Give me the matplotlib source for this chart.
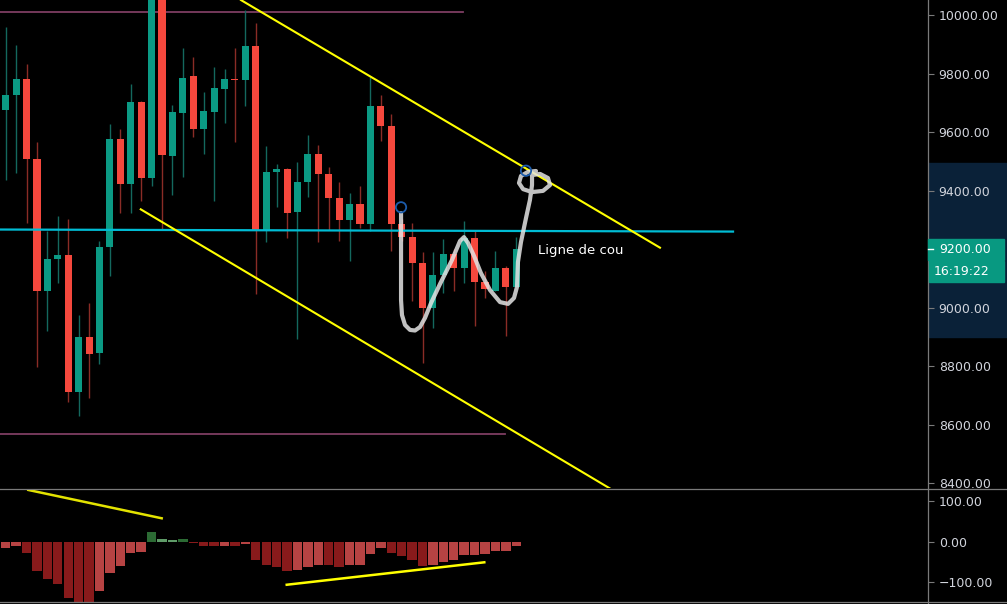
import numpy as np
import matplotlib.pyplot as plt
from matplotlib.patches import Rectangle
from matplotlib.lines import Line2D

# candles, one per bar index 0..49
opens = [9677, 9727, 9783, 9509, 9056, 9165, 9181, 8713, 8900, 8844,
         9206, 9578, 9422, 9702, 9442, 10085, 9518, 9665, 9790, 9610,
         9668, 9747, 9780, 9778, 9893, 9265, 9463, 9475, 9327, 9429,
         9526, 9457, 9375, 9298, 9354, 9285, 9690, 9622, 9286, 9242,
         9151, 9000, 9111, 9185, 9134, 9238, 9089, 9057, 9135, 9072]
highs = [9958, 9897, 9834, 9567, 9263, 9314, 9303, 8975, 9015, 9229,
         9626, 9609, 9763, 9705, 10095, 10095, 9694, 9886, 9856, 9736,
         9822, 9815, 9886, 10017, 9973, 9551, 9492, 9478, 9498, 9591,
         9557, 9482, 9429, 9391, 9416, 9788, 9725, 9663, 9304, 9291,
         9189, 9189, 9234, 9200, 9297, 9263, 9126, 9194, 9143, 9240]
lows = [9437, 9459, 9291, 8798, 8921, 9086, 8678, 8630, 8691, 8808,
        9109, 9325, 9322, 9366, 9415, 9265, 9384, 9446, 9583, 9525,
        9366, 9631, 9566, 9689, 9048, 9224, 9343, 9238, 8892, 9377,
        9224, 9265, 9228, 9158, 9271, 9263, 9569, 9192, 9229, 9023,
        8811, 8931, 9051, 9057, 9086, 8937, 9034, 9057, 8903, 9072]
closes = [9728, 9783, 9507, 9058, 9166, 9181, 8713, 8900, 8842, 9208,
          9578, 9422, 9702, 9442, 10085, 9521, 9667, 9786, 9610, 9671,
          9749, 9780, 9778, 9893, 9265, 9464, 9475, 9324, 9430, 9526,
          9456, 9374, 9298, 9354, 9285, 9690, 9620, 9286, 9240, 9151,
          9000, 9111, 9183, 9134, 9238, 9089, 9063, 9135, 9072, 9200]

# oscillator histogram, starting at bar index -1
osc_start = -1
osc = [-23.8, -16.4, -11.5, -28.7, -73, -92.8, -105, -139.6, -150, -150,
       -122.3, -78, -60.8, -28.7, -26.3, 24.6, 7.4, 4.9, 7.4, -4.1,
       -11.5, -11.7, -11.3, -11.6, -6.6, -46, -58.3, -63.2, -73, -70.6,
       -63.2, -58.3, -58.5, -63.2, -58.3, -58.1, -31.2, -16.4, -28.7, -36.1,
       -46, -60.8, -58.3, -50.9, -46, -33.7, -33.5, -31.2, -23.8, -23.6, -11.5]

price_ticks = [8400, 8600, 8800, 9000, 9200, 9400, 9600, 9800, 10000]
osc_ticks = [-100, 0, 100]

# drawings on the price pane
neckline_x = [-0.55, 69.8]
neckline_y = [9267, 9260]
channel_top_x = [22.58, 62.79]
channel_top_y = [10051, 9205]
channel_bot_x = [12.96, 58.19]
channel_bot_y = [9336, 8378]
level_hi_x, level_hi_y = [-0.55, 43.9], [10010, 10010]
level_lo_x, level_lo_y = [-0.55, 47.9], [8570, 8570]
anchor_x = [37.94, 49.93]
anchor_y = [9343, 9468]
sketch_x = [37.94, 37.94, 37.94, 38.03, 38.32, 38.80, 39.28, 39.76, 40.24, 40.82,
            41.68, 42.83, 43.60, 43.98, 44.37, 44.94, 45.61, 46.48, 47.44, 48.21,
            48.78, 49.07, 49.16, 49.45, 49.93, 50.31, 50.51, 50.51, 51.28, 52.04,
            52.24, 51.56, 50.51, 49.65, 49.26, 49.45, 50.12, 50.89]
sketch_y = [9323, 9248, 9026, 8975, 8941, 8924, 8922, 8934, 8965, 9016,
            9081, 9163, 9228, 9241, 9221, 9177, 9118, 9060, 9019, 9013,
            9033, 9071, 9156, 9224, 9306, 9368, 9419, 9453, 9457, 9443,
            9419, 9399, 9395, 9405, 9426, 9450, 9464, 9467]
label_pos = (51.08, 9196)

# drawings on the oscillator pane
osc_div1_x, osc_div1_y = [2.17, 14.97], [127.3, 57.6]
osc_div2_x, osc_div2_y = [26.97, 45.93], [-105.9, -50.7]

last_price = 9200.00
countdown = '16:19:22'

W, H = 1007, 604
BG = '#000000'
UP, DOWN = '#0b9a84', '#f5483d'
UP_WICK, DOWN_WICK = '#14685e', '#8a2c26'
GRID = '#7a7a7a'
TXT = '#d1d4dc'

fig = plt.figure(figsize=(W / 100, H / 100), dpi=100, facecolor=BG)

def fx(px):
    return px / W

def fy(py):
    return 1 - py / H

axis_x = 928.3
main_top, main_bot = 0, 488.3
osc_top, osc_bot = 489.3, 601.7

ax = fig.add_axes([0, fy(main_bot), fx(axis_x), (main_bot - main_top) / H])
ax2 = fig.add_axes([0, fy(osc_bot), fx(axis_x), (osc_bot - osc_top) / H])

xlim = (-0.547, 88.54)
for a in (ax, ax2):
    a.set_facecolor(BG)
    a.set_xlim(*xlim)
    for s in a.spines.values():
        s.set_visible(False)
    a.set_xticks([])
    a.yaxis.tick_right()
    a.tick_params(axis='y', colors=GRID, labelcolor=TXT, length=4, width=0.8,
                  pad=3.5, labelsize=9)

ax.set_ylim(8382.9, 10051.2)
ax2.set_ylim(-147.6, 128.9)

# candles
idx = np.arange(len(opens))
o = np.array(opens, float)
c = np.array(closes, float)
up = c >= o
body_lo = np.minimum(o, c)
body_h = np.maximum(np.abs(c - o), 3.5)
ax.vlines(idx[up], np.array(lows)[up], np.array(highs)[up], color=UP_WICK, lw=1, zorder=2)
ax.vlines(idx[~up], np.array(lows)[~up], np.array(highs)[~up], color=DOWN_WICK, lw=1, zorder=2)
ax.bar(idx, body_h, bottom=body_lo, width=0.68,
       color=[UP if u else DOWN for u in up], linewidth=0, zorder=3)

# horizontal levels and channel
ax.plot(level_hi_x, level_hi_y, color='#7e3e62', lw=1.3, zorder=1)
ax.plot(level_lo_x, level_lo_y, color='#7e3e62', lw=1.3, zorder=1)
ax.plot(neckline_x, neckline_y, color='#00bcd4', lw=1.6, zorder=4)
ax.plot(channel_top_x, channel_top_y, color='#ffff00', lw=1.5, zorder=4)
ax.plot(channel_bot_x, channel_bot_y, color='#ffff00', lw=1.5, zorder=4)

# freehand sketch
ax.plot(sketch_x, sketch_y, color='#e4e4e4', alpha=0.85, lw=3.0,
        solid_capstyle='round', solid_joinstyle='round', zorder=5)
ax.scatter(anchor_x, anchor_y, s=55, facecolors='none', edgecolors='#1c5cab',
           linewidths=1.3, zorder=6)
ax.text(label_pos[0], label_pos[1], 'Ligne de cou', color='white', fontsize=9.5,
        va='center', ha='left', zorder=6)

# oscillator histogram
osc_x = np.arange(len(osc)) + osc_start
cols = []
prev = None
for v in osc:
    if v >= 0:
        cols.append('#2c6b34' if prev is None or v >= prev else '#5f9c68')
    else:
        cols.append('#881a1b' if prev is None or v <= prev else '#b74343')
    prev = v
ax2.bar(osc_x, osc, width=0.9, color=cols, linewidth=0, zorder=2)
ax2.plot(osc_div1_x, osc_div1_y, color='#e3e300', lw=1.8, zorder=3)
ax2.plot(osc_div2_x, osc_div2_y, color='#ffff00', lw=1.8, zorder=3)

ax.set_yticks(price_ticks)
ax.set_yticklabels([f'{v:.2f}' for v in price_ticks])
ax2.set_yticks(osc_ticks)
ax2.set_yticklabels([f'{v:.2f}'.replace('-', '\u2212') for v in osc_ticks])

# price scale highlight of the selected drawing
fig.add_artist(Rectangle((fx(axis_x), fy(337)), 1 - fx(axis_x), (337 - 163.3) / H,
                         transform=fig.transFigure, color='#0a2138', zorder=0))

# pane separators and scale border
fig.add_artist(Line2D([0, 1], [fy(488.8), fy(488.8)], color=GRID, lw=0.9))
fig.add_artist(Line2D([0, 1], [fy(602), fy(602)], color=GRID, lw=0.9))
fig.add_artist(Line2D([fx(axis_x), fx(axis_x)], [0, 1], color=GRID, lw=0.9))

# last price and countdown tags
fig.add_artist(Rectangle((fx(axis_x), fy(260)), fx(1004.3 - axis_x), 21 / H,
                         transform=fig.transFigure, color='#089981', zorder=5))
fig.add_artist(Rectangle((fx(axis_x + 0.7), fy(281.7)), fx(1004.3 - axis_x - 0.7), 20.4 / H,
                         transform=fig.transFigure, color='#089981', zorder=5))
fig.add_artist(Line2D([fx(axis_x), fx(axis_x + 5)], [fy(249.4), fy(249.4)],
                      color='white', lw=1, zorder=6))
fig.text(fx(939), fy(249.5), f'{last_price:.2f}', color='white', fontsize=9,
         va='center', ha='left', zorder=6)
fig.text(fx(934), fy(271.5), countdown, color='white', fontsize=9,
         va='center', ha='left', zorder=6)

fig.savefig('out.png', dpi=100, facecolor=BG)
